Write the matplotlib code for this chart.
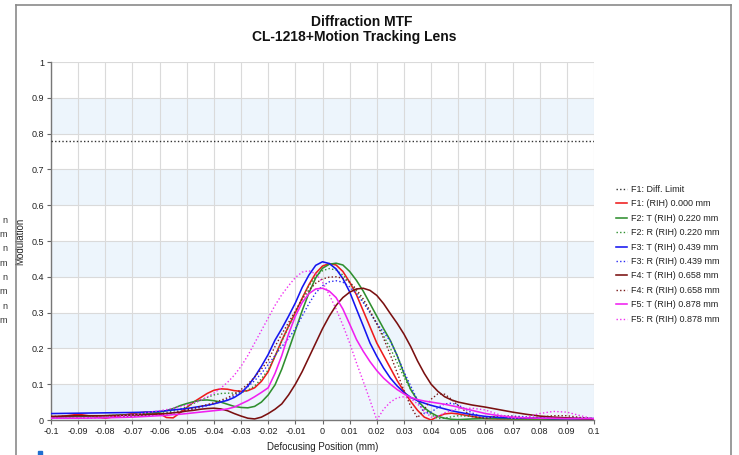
"""Diffraction MTF through focus, CL-1218 + Motion Tracking Lens."""

import matplotlib
matplotlib.use('Agg')
import matplotlib.pyplot as plt
from matplotlib.lines import Line2D
from matplotlib.patches import Rectangle

plt.rcParams['font.family'] = ['Liberation Sans', 'DejaVu Sans']

# defocus positions (mm) shared by all curves
defocus = [-0.1, -0.09, -0.08, -0.07, -0.065,
           -0.06, -0.0575, -0.055, -0.0525, -0.05, -0.0475, -0.045, -0.0425,
           -0.04, -0.0375, -0.035, -0.0325, -0.03, -0.0275, -0.025, -0.0225,
           -0.02, -0.0175, -0.015, -0.0125, -0.01, -0.0075, -0.005, -0.0025,
           0.0, 0.0025, 0.005, 0.0075, 0.01, 0.0125, 0.015, 0.0175,
           0.02, 0.0225, 0.025, 0.0275, 0.03, 0.0325, 0.035, 0.0375,
           0.04, 0.0425, 0.045, 0.0475, 0.05,
           0.055, 0.06, 0.065, 0.07, 0.075, 0.08, 0.085, 0.09, 0.095, 0.1]

diff_limit_x = [-0.1, 0.1]
diff_limit_y = [0.78, 0.78]

f1_t = [0.006, 0.016, 0.005, 0.018, 0.022, 0.018, 0.007, 0.006, 0.02, 0.035,
        0.05, 0.062, 0.074, 0.083, 0.087, 0.086, 0.082, 0.08, 0.082, 0.09,
        0.108, 0.135, 0.178, 0.222, 0.262, 0.30, 0.34, 0.378, 0.41, 0.43,
        0.437, 0.433, 0.415, 0.385, 0.35, 0.305, 0.26, 0.215, 0.18, 0.145,
        0.11, 0.08, 0.052, 0.027, 0.008, 0.0, 0.01, 0.017, 0.019, 0.017,
        0.01, 0.004, 0.003, 0.003, 0.003, 0.003, 0.002, 0.002, 0.002, 0.002]

f2_t = [0.008, 0.01, 0.012, 0.015, 0.018, 0.022, 0.026, 0.032, 0.04, 0.046,
        0.051, 0.055, 0.056, 0.054, 0.05, 0.044, 0.038, 0.035, 0.034, 0.038,
        0.05, 0.07, 0.098, 0.142, 0.195, 0.25, 0.305, 0.355, 0.397, 0.424,
        0.435, 0.438, 0.433, 0.415, 0.39, 0.36, 0.325, 0.29, 0.255, 0.222,
        0.18, 0.13, 0.085, 0.055, 0.034, 0.02, 0.01, 0.005, 0.002, 0.001,
        0.003, 0.004, 0.004, 0.003, 0.003, 0.003, 0.003, 0.003, 0.003, 0.003]

f2_r = [0.01, 0.011, 0.012, 0.015, 0.016, 0.018, 0.021, 0.025, 0.03, 0.037,
        0.046, 0.055, 0.063, 0.07, 0.074, 0.075, 0.075, 0.076, 0.083, 0.095,
        0.115, 0.14, 0.178, 0.22, 0.26, 0.3, 0.34, 0.375, 0.402, 0.417,
        0.423, 0.419, 0.405, 0.385, 0.36, 0.33, 0.3, 0.27, 0.235, 0.2,
        0.16, 0.12, 0.085, 0.055, 0.032, 0.015, 0.004, 0.005, 0.009, 0.012,
        0.01, 0.005, 0.004, 0.004, 0.004, 0.004, 0.003, 0.003, 0.003, 0.003]

f3_t = [0.018, 0.019, 0.02, 0.021, 0.022, 0.024, 0.026, 0.028, 0.03, 0.032,
        0.035, 0.038, 0.041, 0.045, 0.05, 0.055, 0.063, 0.075, 0.095, 0.12,
        0.15, 0.183, 0.223, 0.255, 0.29, 0.327, 0.37, 0.405, 0.432, 0.442,
        0.437, 0.422, 0.395, 0.358, 0.31, 0.263, 0.215, 0.178, 0.145, 0.117,
        0.095, 0.077, 0.063, 0.054, 0.047, 0.041, 0.036, 0.031, 0.026, 0.022,
        0.015, 0.01, 0.007, 0.006, 0.005, 0.005, 0.004, 0.004, 0.004, 0.004]

f3_r = [0.005, 0.006, 0.007, 0.01, 0.012, 0.016, 0.018, 0.02, 0.023, 0.026,
        0.03, 0.035, 0.04, 0.045, 0.051, 0.058, 0.067, 0.078, 0.093, 0.11,
        0.13, 0.155, 0.18, 0.205, 0.228, 0.255, 0.29, 0.325, 0.355, 0.375,
        0.386, 0.389, 0.385, 0.372, 0.352, 0.328, 0.3, 0.27, 0.245, 0.22,
        0.18, 0.135, 0.095, 0.055, 0.018, 0.022, 0.035, 0.045, 0.047, 0.042,
        0.02, 0.005, 0.009, 0.011, 0.009, 0.006, 0.006, 0.006, 0.005, 0.004]

f4_t = [0.01, 0.012, 0.012, 0.014, 0.015, 0.017, 0.018, 0.02, 0.022, 0.025,
        0.027, 0.03, 0.032, 0.033, 0.031, 0.026, 0.018, 0.011, 0.005, 0.003,
        0.008, 0.018, 0.03, 0.045, 0.07, 0.1, 0.135, 0.175, 0.215, 0.255,
        0.29, 0.32, 0.342, 0.357, 0.366, 0.368, 0.362, 0.348, 0.325, 0.297,
        0.27, 0.24, 0.205, 0.165, 0.13, 0.1, 0.08, 0.065, 0.056, 0.05,
        0.042, 0.036, 0.029, 0.022, 0.016, 0.011, 0.008, 0.006, 0.004, 0.003]

f4_r = [0.005, 0.006, 0.008, 0.011, 0.013, 0.015, 0.017, 0.02, 0.024, 0.028,
        0.033, 0.038, 0.043, 0.048, 0.055, 0.062, 0.072, 0.085, 0.1, 0.12,
        0.142, 0.167, 0.205, 0.24, 0.272, 0.305, 0.337, 0.363, 0.382, 0.394,
        0.399, 0.4, 0.396, 0.385, 0.365, 0.338, 0.305, 0.268, 0.228, 0.182,
        0.132, 0.082, 0.038, 0.006, 0.03, 0.058, 0.073, 0.072, 0.058, 0.04,
        0.01, 0.004, 0.012, 0.01, 0.005, 0.008, 0.012, 0.012, 0.007, 0.004]

f5_t = [0.005, 0.005, 0.006, 0.008, 0.01, 0.012, 0.013, 0.015, 0.016, 0.018,
        0.02, 0.022, 0.024, 0.026, 0.028, 0.031, 0.036, 0.045, 0.054, 0.065,
        0.077, 0.09, 0.13, 0.18, 0.24, 0.29, 0.328, 0.353, 0.366, 0.368,
        0.36, 0.342, 0.31, 0.268, 0.225, 0.192, 0.163, 0.138, 0.117, 0.1,
        0.085, 0.073, 0.063, 0.057, 0.053, 0.05, 0.047, 0.044, 0.04, 0.036,
        0.027, 0.018, 0.012, 0.008, 0.006, 0.005, 0.005, 0.004, 0.004, 0.004]

f5_r = [0.005, 0.006, 0.008, 0.014, 0.02, 0.026, 0.029, 0.033, 0.037, 0.042,
        0.048, 0.055, 0.064, 0.075, 0.089, 0.105, 0.125, 0.15, 0.18, 0.215,
        0.25, 0.285, 0.32, 0.35, 0.375, 0.398, 0.413, 0.417, 0.408, 0.385,
        0.35, 0.31, 0.265, 0.215, 0.16, 0.108, 0.055, 0.0, 0.03, 0.05,
        0.062, 0.065, 0.06, 0.045, 0.025, 0.008, 0.01, 0.02, 0.027, 0.031,
        0.033, 0.028, 0.015, 0.004, 0.008, 0.018, 0.024, 0.022, 0.012, 0.003]

x_ticks = [round(-0.1 + 0.01 * i, 2) for i in range(21)]
x_tick_labels = ['-0.1', '-0.09', '-0.08', '-0.07', '-0.06', '-0.05', '-0.04',
                 '-0.03', '-0.02', '-0.01', '0', '0.01', '0.02', '0.03', '0.04',
                 '0.05', '0.06', '0.07', '0.08', '0.09', '0.1']
y_ticks = [round(0.1 * i, 1) for i in range(11)]
y_tick_labels = ['0', '0.1', '0.2', '0.3', '0.4', '0.5', '0.6', '0.7', '0.8',
                 '0.9', '1']

DOT = (0, (1, 1.6))
series = [
    (diff_limit_x, diff_limit_y, '#333333', DOT, 'F1: Diff. Limit'),
    (defocus, f1_t, '#ee1c1c', '-', 'F1: (RIH) 0.000 mm'),
    (defocus, f2_t, '#2f8f2f', '-', 'F2: T (RIH) 0.220 mm'),
    (defocus, f2_r, '#2f8f2f', DOT, 'F2: R (RIH) 0.220 mm'),
    (defocus, f3_t, '#1515f0', '-', 'F3: T (RIH) 0.439 mm'),
    (defocus, f3_r, '#2a2af5', DOT, 'F3: R (RIH) 0.439 mm'),
    (defocus, f4_t, '#7a1010', '-', 'F4: T (RIH) 0.658 mm'),
    (defocus, f4_r, '#7a1a1a', DOT, 'F4: R (RIH) 0.658 mm'),
    (defocus, f5_t, '#f020f0', '-', 'F5: T (RIH) 0.878 mm'),
    (defocus, f5_r, '#f030f0', DOT, 'F5: R (RIH) 0.878 mm'),
]

W, H = 739, 455
fig = plt.figure(figsize=(W / 100, H / 100), dpi=100)
ax = fig.add_axes([51 / W, 1 - 420 / H, (594 - 51) / W, (420 - 62) / H])

# alternating bands
for lo in [0.0, 0.2, 0.4, 0.6, 0.8]:
    ax.axhspan(lo, lo + 0.1, color='#edf5fc', zorder=0, lw=0)

ax.set_xlim(-0.1, 0.1)
ax.set_ylim(0, 1)
ax.set_xticks(x_ticks)
ax.set_xticklabels(x_tick_labels)
ax.set_yticks(y_ticks)
ax.set_yticklabels(y_tick_labels)
ax.grid(True, color='#dadada', lw=0.8, zorder=1)
ax.tick_params(labelsize=6.5, length=3, width=0.8, color='#666666',
               labelcolor='#222222', pad=2)
for side in ['top', 'right']:
    ax.spines[side].set_visible(False)
for side in ['left', 'bottom']:
    ax.spines[side].set_color('#777777')
    ax.spines[side].set_linewidth(1.0)

for xs, ys, c, ls, lab in series:
    lw = 1.0 if ls == DOT else 1.15
    ax.plot(xs, ys, color=c, ls=ls, lw=lw, label=lab, zorder=3)

ax.set_xlabel('Defocusing Position (mm)', fontsize=7, labelpad=4,
              color='#222222')
ax.set_ylabel('Modulation', fontsize=7, color='#222222')
ax.yaxis.set_label_coords((25 - 51) / (594 - 51), 0.5)

fig.text(362 / W, 1 - 22 / H, 'Diffraction MTF', ha='center', va='center',
         fontsize=10, fontweight='bold', color='#111111')
fig.text(354 / W, 1 - 37 / H, 'CL-1218+Motion Tracking Lens', ha='center',
         va='center', fontsize=10, fontweight='bold', color='#111111')

ax.legend(loc='upper left', bbox_to_anchor=(616 / W, 1 - 185 / H),
          bbox_transform=fig.transFigure, frameon=False, fontsize=6.5,
          handlelength=1.2, handletextpad=0.45, labelspacing=0.6,
          borderpad=0, borderaxespad=0, labelcolor='#222222')

# frame of the surrounding panel
border = dict(color='#8a8a8a', lw=1.2, transform=fig.transFigure)
fig.add_artist(Line2D([16 / W, 731 / W], [1 - 5 / H, 1 - 5 / H], **border))
fig.add_artist(Line2D([16 / W, 16 / W], [0, 1 - 5 / H], **border))
fig.add_artist(Line2D([731 / W, 731 / W], [0, 1 - 5 / H], **border))

# clipped remnants of a neighbouring panel
for i, ch in enumerate('nmnmnmnm'):
    fig.text(7 / W, 1 - (220 + 14.4 * i) / H, ch, ha='right', va='center',
             fontsize=6.5, color='#333333')
fig.add_artist(Rectangle((38 / W, 0), 4 / W, 4 / H, color='#1f6fd0',
                         transform=fig.transFigure))

fig.savefig('out.png', dpi=100)
